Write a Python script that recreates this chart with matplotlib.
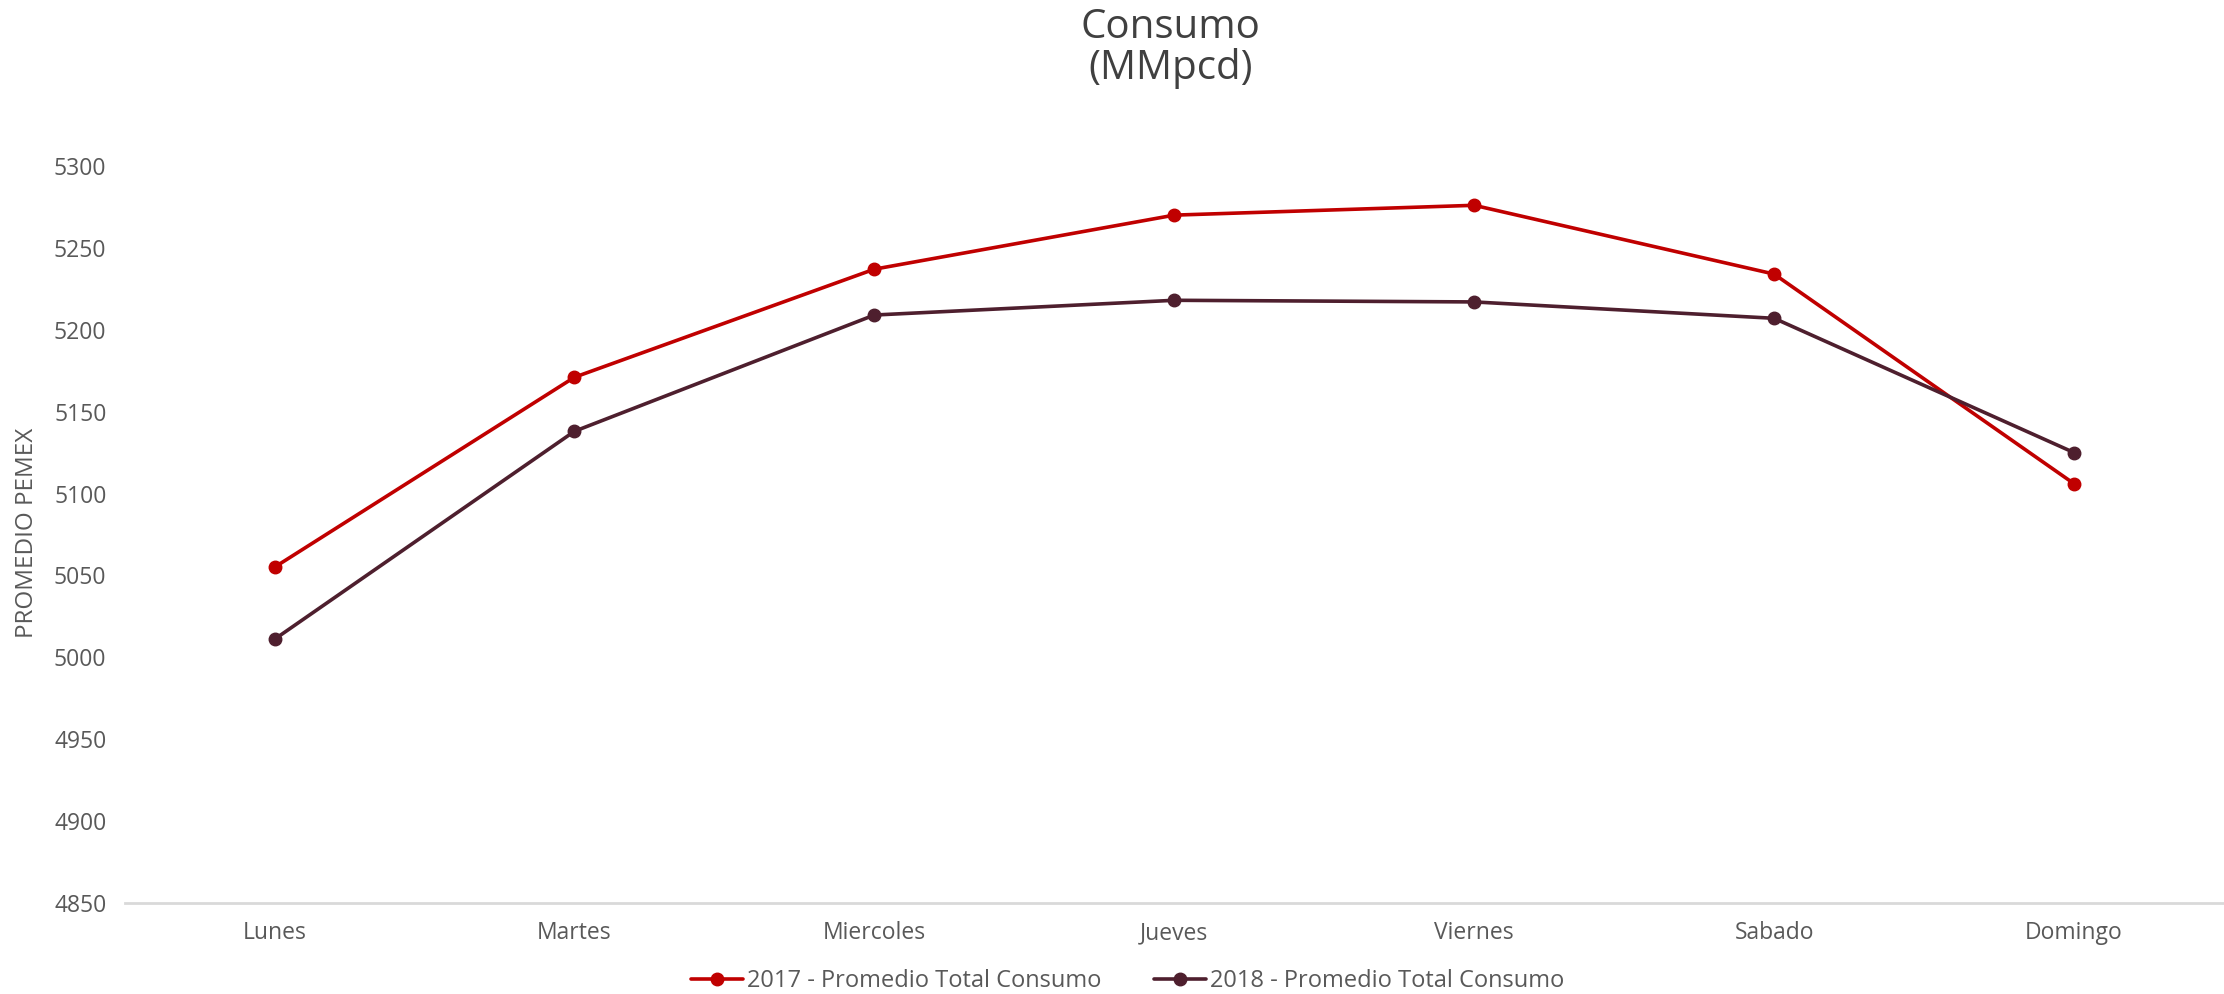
import matplotlib
matplotlib.use("Agg")
import matplotlib.pyplot as plt

dias = ["Lunes", "Martes", "Miercoles", "Jueves", "Viernes", "Sabado", "Domingo"]
consumo_2017 = [5055, 5171, 5237, 5270, 5276, 5234, 5106]
consumo_2018 = [5011, 5138, 5209, 5218, 5217, 5207, 5125]
yticks = [4850, 4900, 4950, 5000, 5050, 5100, 5150, 5200, 5250, 5300]

plt.rcParams['font.family'] = ['Open Sans', 'DejaVu Sans']

fig = plt.figure(figsize=(22.24, 9.94), dpi=100)
ax = fig.add_axes([0.056, 0.0916, 0.944, 0.7414])

x = list(range(len(dias)))
ax.plot(x, consumo_2017, color="#C00000", lw=2.6, marker="o", ms=9,
        label="2017 - Promedio Total Consumo", solid_capstyle="round")
ax.plot(x, consumo_2018, color="#4E1F2E", lw=2.6, marker="o", ms=9,
        label="2018 - Promedio Total Consumo", solid_capstyle="round")

ax.set_xlim(-0.5, len(dias) - 0.5)
ax.set_ylim(4850, 5300)
ax.set_yticks(yticks)
ax.set_xticks(x)
ax.set_xticklabels(dias)
ax.tick_params(axis="both", length=0, labelsize=16.5, labelcolor="#595959")
ax.tick_params(axis="y", pad=13)
ax.tick_params(axis="x", pad=13)
for s in ["top", "right", "left"]:
    ax.spines[s].set_visible(False)
ax.spines["bottom"].set_color("#D9D9D9")
ax.spines["bottom"].set_linewidth(2)
ax.set_facecolor("none")

fig.text(0.5265, 0.951, "Consumo\n(MMpcd)", ha="center", va="center",
         fontsize=29, color="#404040", linespacing=1.0)
fig.text(0.012, 1 - 533 / 994, "PROMEDIO PEMEX", rotation=90, ha="center",
         va="center", fontsize=17.5, color="#595959")

leg = fig.legend(loc="center", bbox_to_anchor=(0.507, 0.013), ncol=2,
                 frameon=False, fontsize=17, handlelength=2.2,
                 columnspacing=2.2, handletextpad=0.2)
for t in leg.get_texts():
    t.set_color("#595959")

fig.savefig("out.png", dpi=100)
